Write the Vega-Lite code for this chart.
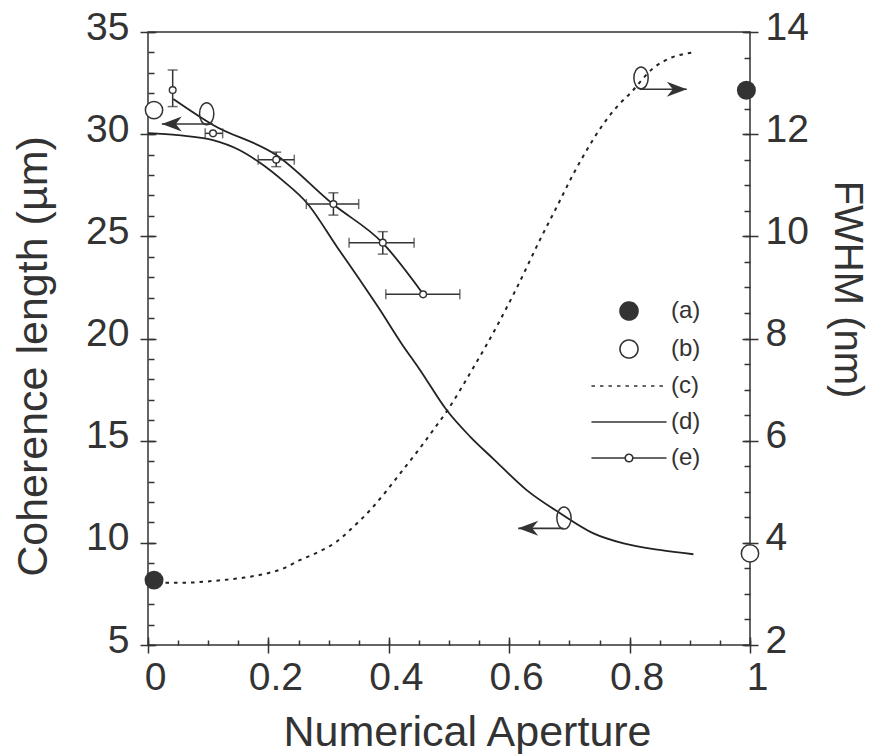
{
  "$schema": "https://vega.github.io/schema/vega-lite/v6.json",
  "width": 602,
  "height": 613,
  "autosize": {"type": "none"},
  "padding": {"left": 148, "top": 32, "right": 127, "bottom": 109},
  "background": "white",
  "config": {
    "view": {"stroke": "#333", "strokeWidth": 1.5},
    "font": "Liberation Sans",
    "axis": {
      "grid": false,
      "domain": false,
      "tickColor": "#333",
      "tickWidth": 1.5,
      "labelColor": "#333",
      "titleColor": "#333",
      "labelFont": "Liberation Sans",
      "titleFont": "Liberation Sans",
      "titleFontWeight": "normal",
      "labelFontSize": 39,
      "titleFontSize": 43
    }
  },
  "datasets": {
    "d": [
      {"x": 0, "y": 30.05}, {"x": 0.05, "y": 29.95}, {"x": 0.108, "y": 29.71}, {"x": 0.15, "y": 29.25},
      {"x": 0.186, "y": 28.6}, {"x": 0.225, "y": 27.7}, {"x": 0.264, "y": 26.63}, {"x": 0.314, "y": 24.48},
      {"x": 0.352, "y": 22.86}, {"x": 0.382, "y": 21.55}, {"x": 0.421, "y": 19.76}, {"x": 0.451, "y": 18.5},
      {"x": 0.496, "y": 16.5}, {"x": 0.535, "y": 15.2}, {"x": 0.574, "y": 14.1}, {"x": 0.629, "y": 12.58},
      {"x": 0.684, "y": 11.46}, {"x": 0.74, "y": 10.46}, {"x": 0.79, "y": 9.97}, {"x": 0.85, "y": 9.65},
      {"x": 0.906, "y": 9.44}
    ],
    "e_line": [
      {"x": 0.042, "y": 31.72}, {"x": 0.108, "y": 30.45}, {"x": 0.213, "y": 28.98},
      {"x": 0.307, "y": 26.58}, {"x": 0.39, "y": 24.67}, {"x": 0.457, "y": 22.18}
    ],
    "e_pts": [
      {"x": 0.041, "y": 32.16}, {"x": 0.108, "y": 30.04}, {"x": 0.213, "y": 28.75},
      {"x": 0.308, "y": 26.58}, {"x": 0.39, "y": 24.69}, {"x": 0.457, "y": 22.16}
    ],
    "e_xerr": [
      {"y": 30.04, "xlo": 0.095, "xhi": 0.124}, {"y": 28.75, "xlo": 0.183, "xhi": 0.243},
      {"y": 26.58, "xlo": 0.263, "xhi": 0.35}, {"y": 24.69, "xlo": 0.334, "xhi": 0.442},
      {"y": 22.16, "xlo": 0.395, "xhi": 0.518}
    ],
    "e_yerr": [
      {"x": 0.041, "ylo": 31.35, "yhi": 33.14}, {"x": 0.213, "ylo": 28.41, "yhi": 29.12},
      {"x": 0.308, "ylo": 26.04, "yhi": 27.13}, {"x": 0.39, "ylo": 24.13, "yhi": 25.23}
    ],
    "c": [
      {"x": 0.015, "f": 3.22}, {"x": 0.06, "f": 3.22}, {"x": 0.114, "f": 3.26}, {"x": 0.16, "f": 3.32},
      {"x": 0.197, "f": 3.4}, {"x": 0.225, "f": 3.5}, {"x": 0.252, "f": 3.66}, {"x": 0.283, "f": 3.82},
      {"x": 0.313, "f": 4.02}, {"x": 0.34, "f": 4.3}, {"x": 0.369, "f": 4.64}, {"x": 0.395, "f": 5.0},
      {"x": 0.419, "f": 5.36}, {"x": 0.447, "f": 5.78}, {"x": 0.474, "f": 6.21}, {"x": 0.496, "f": 6.57},
      {"x": 0.54, "f": 7.42}, {"x": 0.579, "f": 8.23}, {"x": 0.615, "f": 9.05}, {"x": 0.651, "f": 9.93},
      {"x": 0.68, "f": 10.6}, {"x": 0.707, "f": 11.23}, {"x": 0.732, "f": 11.75}, {"x": 0.757, "f": 12.21},
      {"x": 0.78, "f": 12.55}, {"x": 0.801, "f": 12.8}, {"x": 0.84, "f": 13.3}, {"x": 0.87, "f": 13.5},
      {"x": 0.906, "f": 13.6}
    ],
    "a": [{"x": 0.01, "f": 3.27, "s": "(a)"}, {"x": 0.994, "f": 12.86, "s": "(a)"}],
    "b": [{"x": 0.01, "y": 31.18, "s": "(b)"}, {"x": 1.0, "y": 9.48, "s": "(b)"}],
    "ell_l": [{"x": 0.0975, "y": 31.0}, {"x": 0.691, "y": 11.21}],
    "ell_r": [{"x": 0.819, "f": 13.1}],
    "arr_l": [{"x": 0.108, "x2": 0.023, "y": 30.5}, {"x": 0.69, "x2": 0.615, "y": 10.71}],
    "arr_r": [{"x": 0.817, "x2": 0.895, "f": 12.88}]
  },
  "resolve": {"scale": {"y": "independent"}, "axis": {"x": "independent", "y": "independent"}},
  "layer": [
    {
      "data": {"name": "d"},
      "mark": {"type": "line", "color": "#222", "strokeWidth": 1.8, "interpolate": "monotone"},
      "encoding": {
        "x": {"field": "x", "type": "quantitative", "scale": {"domain": [0, 1], "nice": false},
          "axis": {"orient": "bottom", "values": [0, 0.2, 0.4, 0.6, 0.8, 1], "format": "~g", "offset": -8, "tickSize": 16,
            "labelPadding": 5, "labelFlush": false, "labelOffset": 7, "title": "Numerical Aperture",
            "titlePadding": 14, "titleX": 319}},
        "y": {"field": "y", "type": "quantitative", "scale": {"domain": [5, 35], "nice": false, "zero": false},
          "axis": {"orient": "left", "values": [5, 10, 15, 20, 25, 30, 35], "format": "~g", "offset": -8, "tickSize": 16,
            "labelPadding": 11, "labelOffset": -5, "title": "Coherence length (µm)", "titlePadding": 30, "titleY": 324}}
      }
    },
    {
      "data": {"name": "e_line"},
      "mark": {"type": "line", "color": "#222", "strokeWidth": 1.8, "interpolate": "monotone"},
      "encoding": {
        "x": {"field": "x", "type": "quantitative", "scale": {"domain": [0, 1], "nice": false},
          "axis": {"orient": "bottom", "values": [0, 0.05, 0.1, 0.15, 0.2, 0.25, 0.3, 0.35, 0.4, 0.45, 0.5, 0.55, 0.6, 0.65, 0.7, 0.75, 0.8, 0.85, 0.9, 0.95, 1],
            "labels": false, "title": null, "offset": -5, "tickSize": 5}},
        "y": {"field": "y", "type": "quantitative", "scale": {"domain": [5, 35], "nice": false, "zero": false},
          "axis": {"orient": "left", "values": [5, 6, 7, 8, 9, 10, 11, 12, 13, 14, 15, 16, 17, 18, 19, 20, 21, 22, 23, 24, 25, 26, 27, 28, 29, 30, 31, 32, 33, 34, 35],
            "labels": false, "title": null, "offset": -6, "tickSize": 6}}
      }
    },
    {
      "data": {"name": "e_xerr"},
      "mark": {"type": "errorbar", "ticks": {"size": 10, "thickness": 1.5, "color": "#333"}, "rule": {"strokeWidth": 1.5, "color": "#333"}},
      "encoding": {
        "x": {"field": "xlo", "type": "quantitative", "scale": {"domain": [0, 1], "nice": false}, "axis": null},
        "x2": {"field": "xhi"},
        "y": {"field": "y", "type": "quantitative", "scale": {"domain": [5, 35], "nice": false, "zero": false}, "axis": null}
      }
    },
    {
      "data": {"name": "e_yerr"},
      "mark": {"type": "errorbar", "ticks": {"size": 10, "thickness": 1.5, "color": "#333"}, "rule": {"strokeWidth": 1.5, "color": "#333"}},
      "encoding": {
        "x": {"field": "x", "type": "quantitative", "scale": {"domain": [0, 1], "nice": false}, "axis": null},
        "y": {"field": "ylo", "type": "quantitative", "scale": {"domain": [5, 35], "nice": false, "zero": false}, "axis": null},
        "y2": {"field": "yhi"}
      }
    },
    {
      "data": {"name": "e_pts"},
      "mark": {"type": "point", "shape": "circle", "filled": false, "fill": "white", "fillOpacity": 1, "size": 45, "stroke": "#333", "strokeWidth": 1.4, "opacity": 1},
      "encoding": {
        "x": {"field": "x", "type": "quantitative", "scale": {"domain": [0, 1], "nice": false}, "axis": null},
        "y": {"field": "y", "type": "quantitative", "scale": {"domain": [5, 35], "nice": false, "zero": false}, "axis": null}
      }
    },
    {
      "data": {"name": "b"},
      "mark": {"type": "point", "filled": false, "fill": "white", "fillOpacity": 1, "size": 300, "stroke": "#333", "strokeWidth": 1.5, "opacity": 1},
      "encoding": {
        "x": {"field": "x", "type": "quantitative", "scale": {"domain": [0, 1], "nice": false}, "axis": null},
        "y": {"field": "y", "type": "quantitative", "scale": {"domain": [5, 35], "nice": false, "zero": false}, "axis": null},
        "shape": {
          "field": "s", "type": "nominal",
          "scale": {
            "domain": ["(a)", "(b)", "(c)", "(d)", "(e)"],
            "range": [
              "M-4.17,0M4.17,0M1,0A1,1 0 1,1 -1,0A1,1 0 1,1 1,0Z",
              "M-4.17,0M4.17,0M1,0A1,1 0 1,1 -1,0A1,1 0 1,1 1,0Z",
              "M-4.17,0L4.17,0",
              "M-4.17,0L4.17,0",
              "M-4.17,0L-0.42,0M0.42,0L4.17,0M0.42,0A0.42,0.42 0 1,1 -0.42,0A0.42,0.42 0 1,1 0.42,0Z"
            ]
          },
          "legend": {
            "title": null,
            "orient": "none",
            "legendX": 469,
            "legendY": 267,
            "padding": 0,
            "labelFont": "Liberation Sans",
            "labelFontSize": 24,
            "labelColor": "#333",
            "labelOffset": 30,
            "rowPadding": 12,
            "symbolSize": 324,
            "encoding": {
              "symbols": {
                "size": {"value": 324},
                "stroke": {"value": "#333"},
                "strokeWidth": {"value": 1.6},
                "opacity": {"value": 1},
                "fill": {"condition": [{"test": "datum.value === '(a)'", "value": "#333"}, {"test": "datum.value === '(c)' || datum.value === '(d)'", "value": "transparent"}], "value": "white"},
                "strokeDash": {"condition": {"test": "datum.value === '(c)'", "value": [3.5, 5]}, "value": [1, 0]}
              }
            }
          }
        }
      }
    },
    {
      "data": {"name": "ell_l"},
      "mark": {"type": "point", "shape": "M0.65,0A0.65,1 0 1,1 -0.65,0A0.65,1 0 1,1 0.65,0Z", "filled": false, "size": 484, "stroke": "#333", "strokeWidth": 1.5, "opacity": 1},
      "encoding": {
        "x": {"field": "x", "type": "quantitative", "scale": {"domain": [0, 1], "nice": false}, "axis": null},
        "y": {"field": "y", "type": "quantitative", "scale": {"domain": [5, 35], "nice": false, "zero": false}, "axis": null}
      }
    },
    {
      "data": {"name": "arr_l"},
      "mark": {"type": "rule", "color": "#333", "strokeWidth": 1.6},
      "encoding": {
        "x": {"field": "x", "type": "quantitative", "scale": {"domain": [0, 1], "nice": false}, "axis": null},
        "x2": {"field": "x2"},
        "y": {"field": "y", "type": "quantitative", "scale": {"domain": [5, 35], "nice": false, "zero": false}, "axis": null}
      }
    },
    {
      "data": {"name": "arr_l"},
      "mark": {"type": "point", "shape": "M0,0L2,-0.75L1.4,0L2,0.75Z", "filled": true, "size": 400, "color": "#333", "opacity": 1},
      "encoding": {
        "x": {"field": "x2", "type": "quantitative", "scale": {"domain": [0, 1], "nice": false}, "axis": null},
        "y": {"field": "y", "type": "quantitative", "scale": {"domain": [5, 35], "nice": false, "zero": false}, "axis": null}
      }
    },
    {
      "data": {"name": "c"},
      "mark": {"type": "line", "color": "#222", "strokeWidth": 2, "strokeDash": [3.5, 5], "interpolate": "monotone"},
      "encoding": {
        "x": {"field": "x", "type": "quantitative", "scale": {"domain": [0, 1], "nice": false}, "axis": null},
        "y": {"field": "f", "type": "quantitative", "scale": {"domain": [2, 14], "nice": false, "zero": false},
          "axis": {"orient": "right", "values": [2, 4, 6, 8, 10, 12, 14], "format": "~g", "offset": -8, "tickSize": 16,
            "labelPadding": 7, "labelOffset": -5, "title": "FWHM (nm)", "titleFontSize": 40, "titlePadding": 18, "titleY": 257}}
      }
    },
    {
      "data": {"name": "a"},
      "mark": {"type": "point", "shape": "circle", "filled": true, "size": 360, "color": "#333", "opacity": 1},
      "encoding": {
        "x": {"field": "x", "type": "quantitative", "scale": {"domain": [0, 1], "nice": false}, "axis": null},
        "y": {"field": "f", "type": "quantitative", "scale": {"domain": [2, 14], "nice": false, "zero": false},
          "axis": {"orient": "right", "values": [2, 2.5, 3, 3.5, 4, 4.5, 5, 5.5, 6, 6.5, 7, 7.5, 8, 8.5, 9, 9.5, 10, 10.5, 11, 11.5, 12, 12.5, 13, 13.5, 14],
            "labels": false, "title": null, "offset": -6, "tickSize": 6}}
      }
    },
    {
      "data": {"name": "ell_r"},
      "mark": {"type": "point", "shape": "M0.65,0A0.65,1 0 1,1 -0.65,0A0.65,1 0 1,1 0.65,0Z", "filled": false, "size": 484, "stroke": "#333", "strokeWidth": 1.5, "opacity": 1},
      "encoding": {
        "x": {"field": "x", "type": "quantitative", "scale": {"domain": [0, 1], "nice": false}, "axis": null},
        "y": {"field": "f", "type": "quantitative", "scale": {"domain": [2, 14], "nice": false, "zero": false}, "axis": null}
      }
    },
    {
      "data": {"name": "arr_r"},
      "mark": {"type": "rule", "color": "#333", "strokeWidth": 1.6},
      "encoding": {
        "x": {"field": "x", "type": "quantitative", "scale": {"domain": [0, 1], "nice": false}, "axis": null},
        "x2": {"field": "x2"},
        "y": {"field": "f", "type": "quantitative", "scale": {"domain": [2, 14], "nice": false, "zero": false}, "axis": null}
      }
    },
    {
      "data": {"name": "arr_r"},
      "mark": {"type": "point", "shape": "M0,0L-2,-0.75L-1.4,0L-2,0.75Z", "filled": true, "size": 400, "color": "#333", "opacity": 1},
      "encoding": {
        "x": {"field": "x2", "type": "quantitative", "scale": {"domain": [0, 1], "nice": false}, "axis": null},
        "y": {"field": "f", "type": "quantitative", "scale": {"domain": [2, 14], "nice": false, "zero": false}, "axis": null}
      }
    }
  ]
}
